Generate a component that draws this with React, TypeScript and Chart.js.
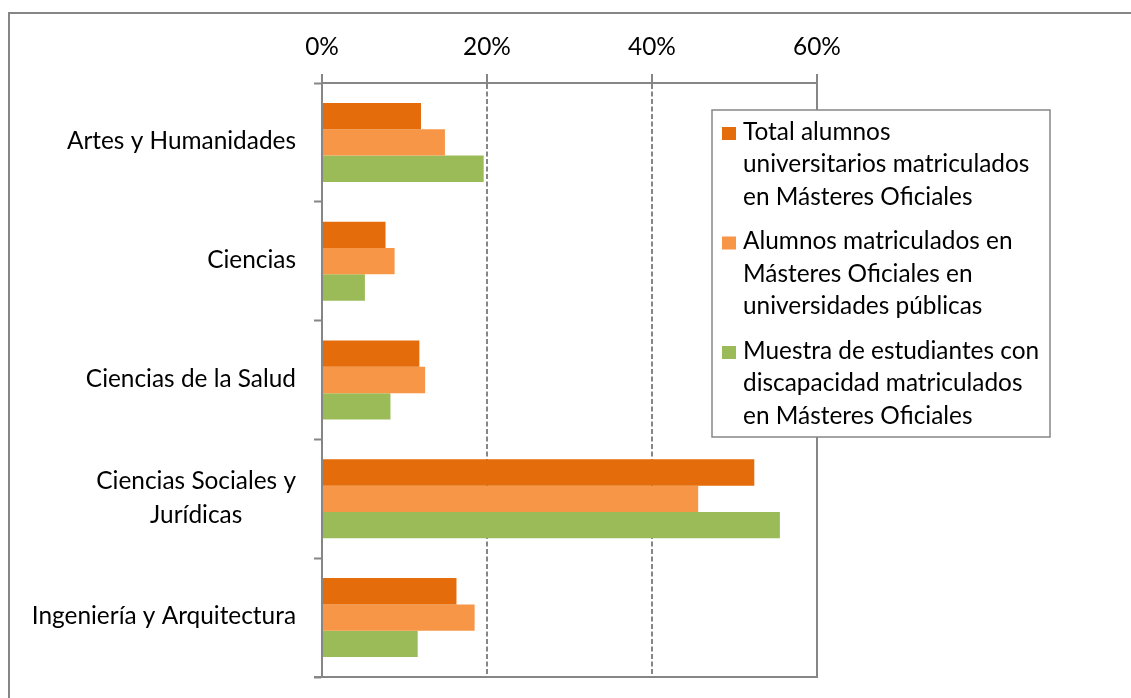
import React, { useEffect, useRef } from 'react';
import { Chart, registerables } from 'chart.js';

Chart.register(...registerables);

// ---- data ----
const categories = [
  'Artes y Humanidades',
  'Ciencias',
  'Ciencias de la Salud',
  'Ciencias Sociales y Jurídicas',
  'Ingeniería y Arquitectura',
];
const categoryLines = [
  ['Artes y Humanidades'],
  ['Ciencias'],
  ['Ciencias de la Salud'],
  ['Ciencias Sociales y', 'Jurídicas'],
  ['Ingeniería y Arquitectura'],
];
const seriesNames = [
  'Total alumnos universitarios matriculados en Másteres Oficiales',
  'Alumnos matriculados en Másteres Oficiales en universidades públicas',
  'Muestra de estudiantes con discapacidad matriculados en Másteres Oficiales',
];
const legendLines = [
  ['Total alumnos', 'universitarios matriculados', 'en Másteres Oficiales'],
  ['Alumnos matriculados en', 'Másteres Oficiales en', 'universidades públicas'],
  ['Muestra de estudiantes con', 'discapacidad matriculados', 'en Másteres Oficiales'],
];
const totalMasteres = [12.0, 7.7, 11.8, 52.4, 16.3];
const publicasMasteres = [14.9, 8.8, 12.5, 45.6, 18.5];
const muestraDiscapacidad = [19.6, 5.2, 8.3, 55.5, 11.6];
const xTickValues = [0, 20, 40, 60];
const seriesColors = ['#E46C0A', '#F79646', '#9BBB59'];

const FONT = 'Lato';
const GRID = '#868686';

export default function App() {
  const ref = useRef<HTMLCanvasElement>(null);

  useEffect(() => {
    document.body.style.overflow = 'hidden';
    const canvas = ref.current!;
    const m = document.createElement('canvas').getContext('2d')!;
    m.font = `100px ${FONT}`;
    const fs = Math.round((100 * 229) / m.measureText('Artes y Humanidades').width * 10) / 10;

    const custom = {
      id: 'custom',
      afterDatasetsDraw(chart: any) {
        const { ctx, chartArea } = chart;
        const { left, right, top, bottom } = chartArea;
        ctx.save();
        ctx.strokeStyle = GRID;
        ctx.lineWidth = 2;
        ctx.beginPath();
        ctx.moveTo(right, top);
        ctx.lineTo(right, bottom);
        ctx.lineTo(left - 8, bottom);
        ctx.stroke();

        // category labels (multi-line, centered block, right aligned)
        const ys = chart.scales.y;
        ctx.font = `${fs}px ${FONT}`;
        ctx.fillStyle = '#000';
        ctx.textAlign = 'center';
        ctx.textBaseline = 'middle';
        const lineH = 34;
        categoryLines.forEach((lines, i) => {
          const cy = ys.getPixelForValue(i) - 1;
          const w = Math.max(...lines.map((l) => ctx.measureText(l).width));
          const cx = left - 26 - w / 2;
          lines.forEach((l, j) => {
            ctx.fillText(l, cx, cy + (j - (lines.length - 1) / 2) * lineH);
          });
        });

        // legend
        const bx = 702, by = 96, bw = 338, bh = 327;
        ctx.fillStyle = '#fff';
        ctx.fillRect(bx, by, bw, bh);
        ctx.strokeStyle = GRID;
        ctx.lineWidth = 1.5;
        ctx.strokeRect(bx, by, bw, bh);
        ctx.textAlign = 'left';
        ctx.textBaseline = 'alphabetic';
        legendLines.forEach((lines, i) => {
          const base = 125.5 + i * 109.5;
          ctx.fillStyle = seriesColors[i];
          ctx.fillRect(712, base - 12.5, 14, 13);
          ctx.fillStyle = '#000';
          lines.forEach((l, j) => ctx.fillText(l, 733, base + j * 32.5));
        });
        ctx.restore();
      },
    };

    const chart = new Chart(canvas, {
      type: 'bar',
      data: {
        labels: categories,
        datasets: [totalMasteres, publicasMasteres, muestraDiscapacidad].map((d, i) => ({
          label: seriesNames[i],
          data: d,
          backgroundColor: seriesColors[i],
          borderWidth: 0,
          barPercentage: 1,
          categoryPercentage: 0.665,
        })),
      },
      options: {
        indexAxis: 'y',
        responsive: false,
        animation: false,
        devicePixelRatio: 1,
        layout: { padding: { left: 0, top: 0, right: 314, bottom: 21 } },
        plugins: { legend: { display: false }, tooltip: { enabled: false } },
        scales: {
          x: {
            position: 'top',
            min: 0,
            max: 60,
            afterFit: (s: any) => { s.height = 69; },
            afterBuildTicks: (s: any) => { s.ticks = xTickValues.map((v) => ({ value: v })); },
            ticks: {
              callback: (v: any) => `${v}%`,
              font: { family: FONT, size: fs },
              color: '#000',
              padding: 12,
            },
            grid: {
              color: GRID,
              lineWidth: 2,
              tickLength: 9,
              tickColor: GRID,
              tickWidth: 2,
              tickBorderDash: [],
            },
            border: { display: true, color: GRID, width: 2, dash: [5, 2.5] },
          },
          y: {
            afterFit: (s: any) => { s.width = 312; },
            ticks: { display: true, color: 'rgba(0,0,0,0)', font: { family: FONT, size: 10 } },
            grid: {
              offset: true,
              drawOnChartArea: false,
              drawTicks: true,
              tickLength: 8,
              tickColor: GRID,
              tickWidth: 2,
            },
            border: { display: true, color: GRID, width: 2 },
          },
        },
      },
      plugins: [custom],
    });
    return () => chart.destroy();
  }, []);

  return (
    <div
      style={{
        position: 'absolute',
        left: 8,
        top: 12,
        width: 1121,
        height: 684,
        borderTop: '2px solid #868686',
        borderLeft: '2px solid #868686',
        background: '#fff',
      }}
    >
      <canvas ref={ref} width={1121} height={684} style={{ display: 'block', width: 1121, height: 684 }} />
    </div>
  );
}
